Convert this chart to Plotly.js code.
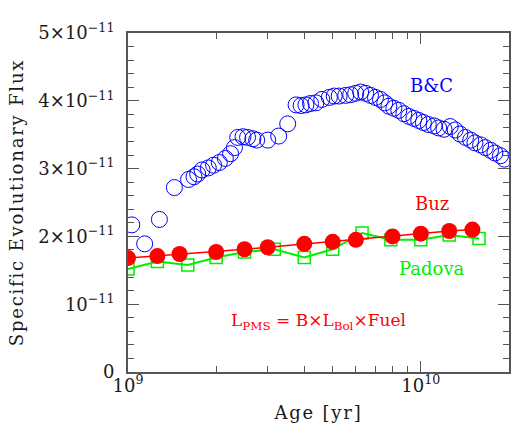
<!DOCTYPE html>
<html>
<head>
<meta charset="utf-8">
<script src="https://cdn.plot.ly/plotly-3.0.1.min.js"></script>
<style>
  body { margin: 0; background: #fff; }
  #plot { width: 532px; height: 446px; }
  /* the original lettering is a little airy */
  .xtitle, .ytitle { letter-spacing: 1.8px; font-weight: 400 !important; }
</style>
</head>
<body>
<div id="plot"></div>
<script>
// B&C models (open blue circles)
var bcAge = [1.03e9, 1.14e9, 1.28e9, 1.44e9, 1.61e9, 1.68e9, 1.73e9, 1.79e9, 1.88e9, 1.96e9,
             2.05e9, 2.15e9, 2.24e9, 2.31e9, 2.37e9, 2.47e9, 2.56e9, 2.67e9, 2.75e9, 3.0e9,
             3.27e9, 3.51e9, 3.75e9, 3.9e9, 4.05e9, 4.2e9, 4.38e9, 4.59e9, 4.87e9, 5.06e9,
             5.26e9, 5.54e9, 5.76e9, 5.99e9, 6.23e9, 6.48e9, 6.73e9, 7.0e9, 7.28e9, 7.53e9,
             7.78e9, 8.09e9, 8.41e9, 8.75e9, 9.1e9, 9.47e9, 9.84e9, 1.02e10, 1.06e10, 1.11e10,
             1.15e10, 1.2e10, 1.26e10, 1.31e10, 1.36e10, 1.42e10, 1.48e10, 1.53e10, 1.6e10, 1.66e10,
             1.73e10, 1.79e10, 1.87e10, 1.93e10];
var bcFlux = [2.17e-11, 1.89e-11, 2.25e-11, 2.72e-11, 2.84e-11, 2.88e-11, 2.92e-11, 2.98e-11, 3.01e-11, 3.05e-11,
              3.09e-11, 3.15e-11, 3.22e-11, 3.31e-11, 3.46e-11, 3.47e-11, 3.46e-11, 3.44e-11, 3.42e-11, 3.42e-11,
              3.48e-11, 3.66e-11, 3.94e-11, 3.93e-11, 3.94e-11, 3.96e-11, 3.97e-11, 4.02e-11, 4.05e-11, 4.07e-11,
              4.07e-11, 4.08e-11, 4.09e-11, 4.11e-11, 4.13e-11, 4.11e-11, 4.08e-11, 4.05e-11, 4.02e-11, 3.97e-11,
              3.92e-11, 3.89e-11, 3.86e-11, 3.81e-11, 3.77e-11, 3.74e-11, 3.71e-11, 3.68e-11, 3.65e-11, 3.63e-11,
              3.60e-11, 3.58e-11, 3.62e-11, 3.57e-11, 3.51e-11, 3.46e-11, 3.42e-11, 3.38e-11, 3.35e-11, 3.31e-11,
              3.27e-11, 3.23e-11, 3.19e-11, 3.14e-11];

// Buzzoni models (filled red circles)
var buzAge = [1.0e9, 1.26e9, 1.5e9, 2.0e9, 2.5e9, 3.0e9, 4.0e9, 5.0e9, 6.0e9, 8.0e9, 1.0e10, 1.25e10, 1.5e10];
var buzFlux = [1.68e-11, 1.71e-11, 1.74e-11, 1.77e-11, 1.81e-11, 1.84e-11, 1.89e-11, 1.92e-11, 1.95e-11,
               2.00e-11, 2.04e-11, 2.08e-11, 2.10e-11];

// Padova models (open green squares)
var padAge = [1.0e9, 1.26e9, 1.6e9, 2.0e9, 2.5e9, 3.16e9, 4.0e9, 5.0e9, 6.3e9, 7.9e9, 1.0e10, 1.25e10, 1.58e10];
var padFlux = [1.52e-11, 1.63e-11, 1.58e-11, 1.69e-11, 1.77e-11, 1.81e-11, 1.69e-11, 1.81e-11, 2.05e-11,
               1.95e-11, 1.95e-11, 2.02e-11, 1.97e-11];

var yTickVals = [0, 1e-11, 2e-11, 3e-11, 4e-11, 5e-11];
var yTickText = ["0", "10<sup>\u221211</sup>", "2\u00d710<sup>\u221211</sup>", "3\u00d710<sup>\u221211</sup>",
                 "4\u00d710<sup>\u221211</sup>", "5\u00d710<sup>\u221211</sup>"];
var xTickVals = [1e9, 1e10];
var xTickText = ["10<sup>9</sup>", "10<sup>10</sup>"];

var font = "DejaVu Serif";
var axisCol = "#555";
var textCol = "#1a1a1a";

var traces = [
  {x: padAge, y: padFlux, mode: "lines+markers", type: "scatter",
   line: {color: "#00ee00", width: 2},
   marker: {symbol: "square-open", size: 12, color: "#00ee00", line: {width: 1.5}}},
  {x: buzAge, y: buzFlux, mode: "lines+markers", type: "scatter",
   line: {color: "#ff0000", width: 1.5},
   marker: {symbol: "circle", size: 16, color: "#ff0000"}},
  {x: bcAge, y: bcFlux, mode: "markers", type: "scatter",
   marker: {symbol: "circle-open", size: 16, color: "#0000ff", line: {width: 1}}}
];

var layout = {
  width: 532, height: 446,
  margin: {l: 128, r: 23, t: 33, b: 74},
  showlegend: false,
  paper_bgcolor: "#fff", plot_bgcolor: "#fff",
  font: {family: font, size: 18, color: textCol},
  xaxis: {
    type: "log", range: [9, Math.log10(2e10)],
    tickvals: xTickVals, ticktext: xTickText,
    ticks: "inside", ticklen: 11, tickwidth: 1, tickcolor: axisCol,
    minor: {ticks: "inside", ticklen: 6, tickwidth: 1, tickcolor: axisCol, dtick: "D1"},
    showline: true, linecolor: axisCol, linewidth: 2, mirror: "allticks",
    showgrid: false, zeroline: false,
    tickfont: {family: font, size: 18, color: textCol},
    ticklabelstandoff: -4,
    title: {text: "Age [yr]", font: {family: font, size: 18, color: textCol, weight: 400}, standoff: 12}
  },
  yaxis: {
    range: [0, 5e-11],
    tickvals: yTickVals, ticktext: yTickText,
    ticks: "inside", ticklen: 11, tickwidth: 1, tickcolor: axisCol,
    minor: {ticks: "inside", ticklen: 6, tickwidth: 1, tickcolor: axisCol, dtick: 2e-12},
    showline: true, linecolor: axisCol, linewidth: 2, mirror: "allticks",
    showgrid: false, zeroline: false,
    tickfont: {family: font, size: 18, color: textCol},
    ticklabelstandoff: 8,
    title: {text: "Specific Evolutionary Flux", font: {family: font, size: 18, color: textCol, weight: 400}, standoff: 10}
  },
  annotations: [
    {x: Math.log10(1.09e10), y: 4.23e-11, xref: "x", yref: "y", text: "B&C", showarrow: false,
     font: {family: font, size: 18, color: "#0000ff"}},
    {x: Math.log10(1.09e10), y: 2.48e-11, xref: "x", yref: "y", text: "Buz", showarrow: false,
     font: {family: font, size: 18, color: "#ff0000"}},
    {x: Math.log10(1.09e10), y: 1.53e-11, xref: "x", yref: "y", text: "Padova", showarrow: false,
     font: {family: font, size: 18, color: "#00ee00"}},
    {x: Math.log10(4.47e9), y: 0.74e-11, xref: "x", yref: "y",
     text: "L<sub>PMS</sub> = B\u00d7L<sub>Bol</sub>\u00d7Fuel", showarrow: false,
     font: {family: font, size: 17, color: "#ff0000"}}
  ]
};

Plotly.newPlot("plot", traces, layout, {displayModeBar: false, staticPlot: true});
</script>
</body>
</html>
